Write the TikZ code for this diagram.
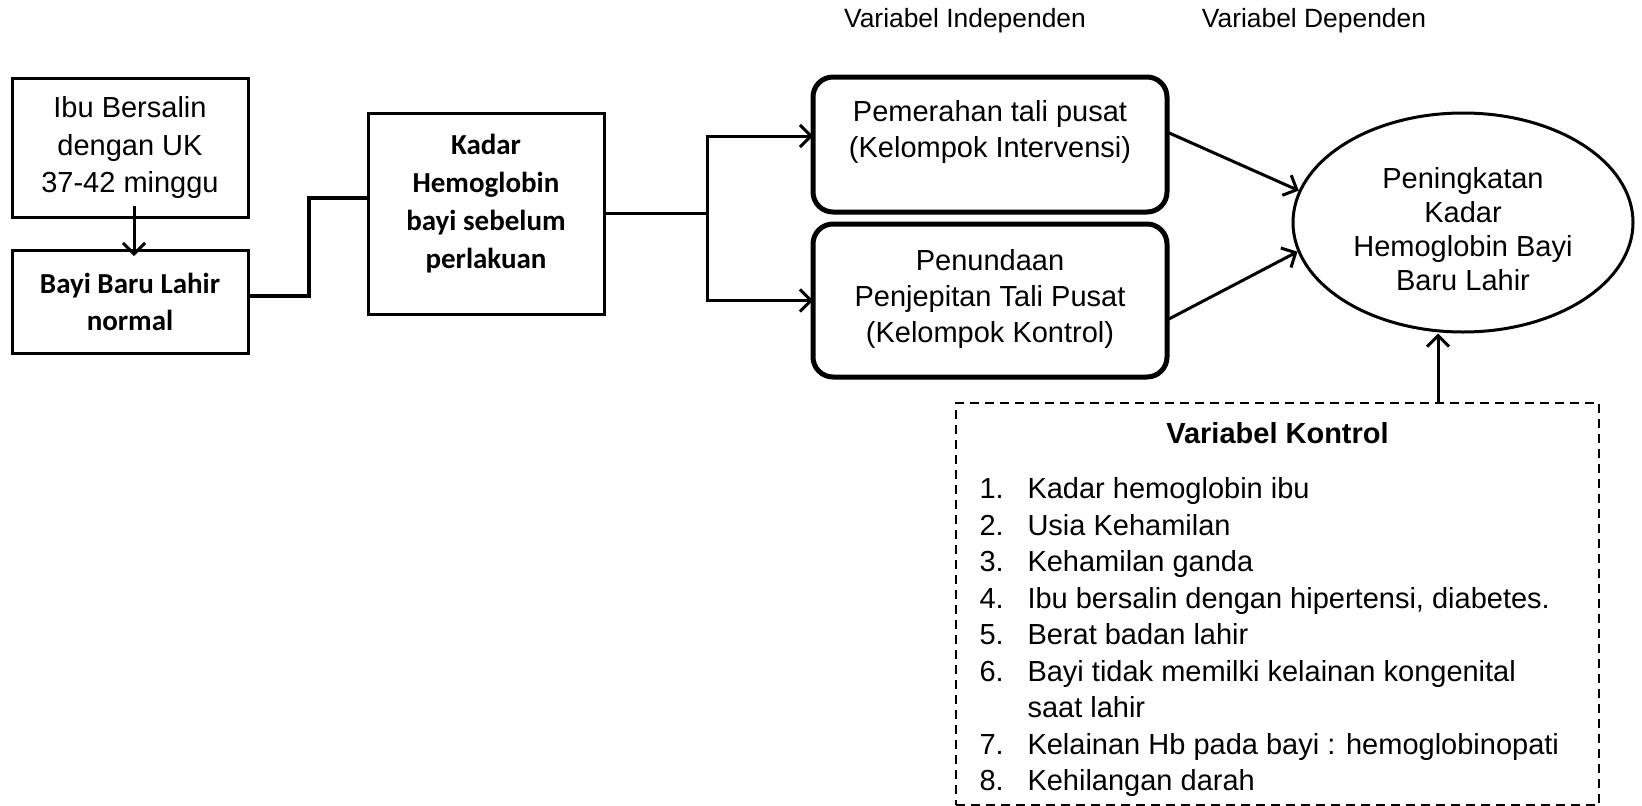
\documentclass[tikz,border=0pt]{standalone}
\usepackage{fontspec}
\setmainfont{Liberation Sans}
\newfontfamily\calibri{Carlito}
\usetikzlibrary{arrows.meta,shapes.geometric}
\tikzset{
  kotak/.style={draw,line width=3pt,inner sep=0pt,outer sep=0pt,minimum width=236pt},
  kotakbulat/.style={draw,line width=5pt,rounded corners=20pt,inner sep=0pt,outer sep=0pt,minimum width=354pt},
  teks/.style={align=center,inner sep=0pt},
}
\begin{document}
\begin{tikzpicture}[x=1pt,y=-1pt,line width=3pt,font=\fontsize{29}{36}\selectfont,
  >={Straight Barb[length=11pt,width=22pt]}]
  \useasboundingbox (0,0) rectangle (1642,806);

  \node[teks,font=\fontsize{26.4}{30}\selectfont] (labelindep) at (965,21) {Variabel Independen};
  \node[teks,font=\fontsize{26.4}{30}\selectfont] (labeldep) at (1314,21) {Variabel Dependen};

  \node[kotak,minimum height=139pt,teks,font=\fontsize{29}{37.5}\selectfont] (ibu) at (130,147.5)
    {Ibu Bersalin\\dengan UK\\37-42 minggu};
  \node[kotak,minimum height=103pt,teks,font={\calibri\bfseries\fontsize{29}{37}\selectfont}] (bayi) at (130,301.5)
    {Bayi Baru Lahir\\normal};
  \node[kotak,minimum height=201pt] (kadar) at (486,213.5) {};
  \node[teks,font={\calibri\bfseries\fontsize{29}{38}\selectfont}] (kadartxt) at (486,204)
    {Kadar\\Hemoglobin\\bayi sebelum\\perlakuan};

  \node[kotakbulat,minimum height=135pt] (perah) at (990,144.5) {};
  \node[teks,font=\fontsize{29}{35.5}\selectfont] (perahtxt) at (990,132)
    {Pemerahan tali pusat\\(Kelompok Intervensi)};
  \node[kotakbulat,minimum height=153pt] (tunda) at (990,300.5) {};
  \node[teks] (tundatxt) at (990,299)
    {Penundaan\\Penjepitan Tali Pusat\\(Kelompok Kontrol)};

  \node[draw,ellipse,line width=3pt,inner sep=0pt,minimum width=340pt,minimum height=219pt] (hasil) at (1463,222.5) {};
  \node[teks,font=\fontsize{29}{34}\selectfont] (hasiltxt) at (1463,229)
    {Peningkatan\\Kadar\\Hemoglobin Bayi\\Baru Lahir};

  \node[draw,line width=2pt,dash pattern=on 9pt off 6pt,inner sep=0pt,minimum width=643pt,minimum height=402pt] (kontrol) at (1277.5,604) {};
  \node[teks,font=\bfseries\fontsize{29}{36}\selectfont] (kontroljudul) at (1277.5,433) {Variabel Kontrol};
  \foreach \num/\txt/\yy [count=\i] in {1./Kadar hemoglobin ibu/488, 2./Usia Kehamilan/524.5,
      3./Kehamilan ganda/561, 4./{Ibu bersalin dengan hipertensi, diabetes.}/597.5,
      5./Berat badan lahir/634, 6./Bayi tidak memilki kelainan kongenital/670.5,
      {}/saat lahir/707, 7./Kelainan Hb pada bayi : hemoglobinopati/743.5,
      8./Kehilangan darah/780}{
    \node[anchor=base west,inner sep=0pt] (no\i) at (978,\yy+10.5) {\num};
    \node[anchor=base west,inner sep=0pt] (item\i) at (1026,\yy+10.5) {\txt};
  }

  \draw[->] ([xshift=4pt,yshift=11pt]ibu.south) -- ([xshift=4pt,yshift=-6pt]bayi.north);
  \draw[line width=4.5pt] ([yshift=5.5pt]bayi.east) -- ++(61,0) |- ([yshift=15.5pt]kadar.west);
  \coordinate (cabang) at (707,213.5);
  \draw (kadar.east) -- (cabang);
  \draw[->] (cabang) |- ([yshift=8.5pt]perah.west);
  \draw[->] (cabang) |- (tunda.west);
  \draw[->] ([yshift=12.5pt]perah.east) -- (hasil.169);
  \draw[->] ([yshift=-19.5pt]tunda.east) -- (hasil.190);
  \coordinate (kontrolatas) at ([xshift=160.5pt]kontrol.north);
  \draw[->] (kontrolatas) -- (kontrolatas |- hasil.south);
\end{tikzpicture}
\end{document}
